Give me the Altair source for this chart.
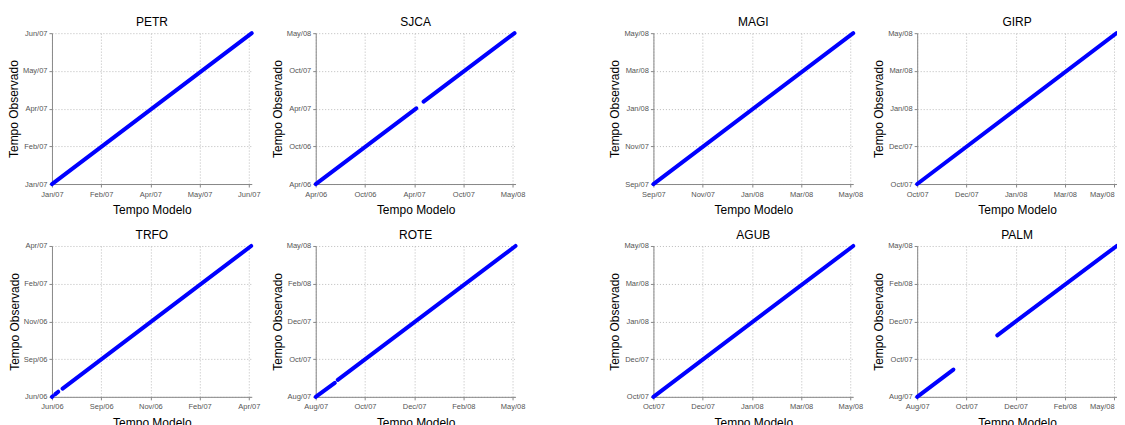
import altair as alt
import pandas as pd

# Station order (row by row)
stations = ["PETR", "SJCA", "MAGI", "GIRP", "TRFO", "ROTE", "AGUB", "PALM"]

# Tick labels (same on both axes) at 5 evenly spaced positions
labels_PETR = ["Jan/07", "Feb/07", "Apr/07", "May/07", "Jun/07"]
labels_SJCA = ["Apr/06", "Oct/06", "Apr/07", "Oct/07", "May/08"]
labels_MAGI = ["Sep/07", "Nov/07", "Jan/08", "Mar/08", "May/08"]
labels_GIRP = ["Oct/07", "Dec/07", "Jan/08", "Mar/08", "May/08"]
labels_TRFO = ["Jun/06", "Sep/06", "Nov/06", "Feb/07", "Apr/07"]
labels_ROTE = ["Aug/07", "Oct/07", "Dec/07", "Feb/08", "May/08"]
labels_AGUB = ["Oct/07", "Dec/07", "Jan/08", "Mar/08", "May/08"]
labels_PALM = ["Aug/07", "Oct/07", "Dec/07", "Feb/08", "May/08"]

# Segments of the observed-vs-model curve, in axis units (tick spacing 0.25)
# each: (x_start, x_end, y_start, y_end)
seg_PETR = [(0.0, 1.015, 0.0, 1.0)]
seg_SJCA = [(0.0, 0.511, 0.0, 0.502), (0.548, 1.010, 0.546, 1.0)]
seg_MAGI = [(0.0, 1.015, 0.0, 1.0)]
seg_GIRP = [(0.0, 1.013, 0.0, 1.0)]
seg_TRFO = [(0.0, 0.004, 0.0, 0.004), (0.017, 0.032, 0.018, 0.034), (0.054, 1.012, 0.055, 1.0)]
seg_ROTE = [(0.0, 0.097, 0.0, 0.093), (0.112, 1.015, 0.113, 1.0)]
seg_AGUB = [(0.0, 1.015, 0.0, 1.0)]
seg_PALM = [(0.0, 0.184, 0.0, 0.181), (0.407, 1.013, 0.408, 1.0)]

tick_pos = [0, 0.25, 0.5, 0.75, 1.0]

labels = {"PETR": labels_PETR, "SJCA": labels_SJCA, "MAGI": labels_MAGI, "GIRP": labels_GIRP,
          "TRFO": labels_TRFO, "ROTE": labels_ROTE, "AGUB": labels_AGUB, "PALM": labels_PALM}
segs = {"PETR": seg_PETR, "SJCA": seg_SJCA, "MAGI": seg_MAGI, "GIRP": seg_GIRP,
        "TRFO": seg_TRFO, "ROTE": seg_ROTE, "AGUB": seg_AGUB, "PALM": seg_PALM}

FONT = "Liberation Sans"
W, H = 200, 151


def panel(name, last_col=False):
    rows = []
    for i, (x0, x1, y0, y1) in enumerate(segs[name]):
        rows.append({"seg": i, "x": x0, "y": y0})
        rows.append({"seg": i, "x": x1, "y": y1})
    df = pd.DataFrame(rows)
    lab = labels[name]
    expr = "[" + ",".join(f"'{s}'" for s in lab) + "][round(datum.value*4)]"
    common = dict(values=tick_pos, labelExpr=expr, labelFontSize=7.5, labelColor="#555555",
                  labelFont=FONT, titleFont=FONT, titleFontSize=12, titleFontWeight="normal",
                  titleColor="#000000", grid=True, gridDash=[1, 2], gridColor="#bbbbbb",
                  domainColor="#888888", tickColor="#888888", tickSize=3,
                  labelFlush=False)
    xextra = {}
    if last_col:
        xextra["labelAlign"] = {"condition": {"test": "datum.value >= 0.99", "value": "right"},
                                "value": "center"}
    return alt.Chart(df, title=alt.TitleParams(name, font=FONT, fontSize=12, fontWeight="normal",
                                                 color="#000000", offset=-4)).mark_line(
        color="#0000ff", strokeWidth=4, strokeCap="round", clip=False
    ).encode(
        x=alt.X("x:Q", scale=alt.Scale(domain=[0, 1.015], nice=False, zero=False),
                axis=alt.Axis(title="Tempo Modelo", titlePadding=7, labelPadding=3,
                              **common, **xextra)),
        y=alt.Y("y:Q", scale=alt.Scale(domain=[0, 1], nice=False, zero=False),
                axis=alt.Axis(title="Tempo Observado", titlePadding=2, labelPadding=2,
                              **common)),
        detail="seg:N",
    ).properties(width=W, height=H)


def spacer():
    return alt.Chart(pd.DataFrame({"v": [0]})).mark_point(opacity=0).encode(
        x=alt.X("v:Q", axis=None), y=alt.Y("v:Q", axis=None)
    ).properties(width=10, height=H)


cells = []
for r in range(2):
    names = stations[4 * r: 4 * r + 4]
    cells += [panel(names[0]), panel(names[1]), spacer(), panel(names[2]),
              panel(names[3], last_col=True)]

chart = alt.concat(*cells, columns=5, bounds="flush",
                   spacing={"row": 62, "column": 64}).properties(
    padding={"left": -1, "top": 8, "right": -8, "bottom": 0},
    background="white",
).configure_view(stroke="transparent", strokeWidth=0)

chart.save("out.html", embed_options={"renderer": "svg", "actions": False})
